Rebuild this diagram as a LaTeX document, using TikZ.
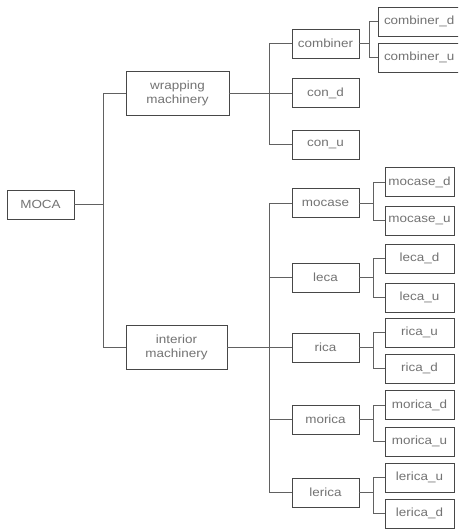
\documentclass[tikz,border=0pt]{standalone}
\usepackage{fontspec}
\setmainfont{Liberation Sans}[FakeStretch=1.14]
\begin{document}
\begin{tikzpicture}[x=1pt,y=-1pt,
  box/.style={draw=black!72,line width=0.9pt,fill=white,text=black!55,font=\fontsize{11.8}{13}\selectfont,
    align=center,inner sep=0pt,anchor=center},
  mid/.style={box,minimum width=67pt,minimum height=29pt},
  leaf/.style={box,minimum width=69pt,minimum height=29pt},
  link/.style={draw=black!62,line width=0.9pt}]
\fill[white] (0,0) rectangle (458,530);
\clip (0,0) rectangle (458,530);
\useasboundingbox (0,0) rectangle (458,530);
% buses
\coordinate (b1) at (103,0);
\coordinate (b2) at (269,0);
\coordinate (bc) at (369,0);
\coordinate (bl) at (373,0);
% nodes
\node[box,minimum width=67pt,minimum height=29pt] (moca) at (40.5,204.5) {MOCA};
\node[box,minimum width=103pt,minimum height=44pt] (wrap) at (177.5,93) {wrapping\\[1pt]machinery};
\node[box,minimum width=101pt,minimum height=44pt] (inter) at (176.5,347) {interior\\[1pt]machinery};
\node[mid] (comb) at (325.5,43.5) {combiner};
\node[mid] (cond) at (325.5,93) {con\_d};
\node[mid] (conu) at (325.5,144.5) {con\_u};
\node[mid] (mocase) at (325.5,203) {mocase};
\node[mid] (leca) at (325.5,277.5) {leca};
\node[mid] (rica) at (325.5,347.5) {rica};
\node[mid] (morica) at (325.5,419.5) {morica};
\node[mid] (lerica) at (325.5,492.5) {lerica};
\node[box,minimum width=84pt,minimum height=29pt,text width=80pt,align=left] (combd) at (420,21.5) {\hspace*{4pt}combiner\_d};
\node[box,minimum width=84pt,minimum height=29pt,text width=80pt,align=left] (combu) at (420,57.5) {\hspace*{4pt}combiner\_u};
\node[leaf] (mocased) at (419.5,182) {mocase\_d};
\node[leaf] (mocaseu) at (419.5,220.5) {mocase\_u};
\node[leaf] (lecad) at (419.5,258.5) {leca\_d};
\node[leaf] (lecau) at (419.5,297.5) {leca\_u};
\node[leaf] (ricau) at (419.5,332.5) {rica\_u};
\node[leaf] (ricad) at (419.5,368.5) {rica\_d};
\node[leaf] (moricad) at (419.5,405) {morica\_d};
\node[leaf] (moricau) at (419.5,441.5) {morica\_u};
\node[leaf] (lericau) at (419.5,477.5) {lerica\_u};
\node[leaf] (lericad) at (419.5,513.5) {lerica\_d};
% connectors
\path[link] (moca.east) -- (moca.east -| b1);
\path[link] (wrap.west) -| (b1 |- inter.west) -- (inter.west);
\path[link] (wrap.east) -- (cond.west);
\path[link] (comb.west) -| (b2 |- conu.west) -- (conu.west);
\path[link] (inter.east) -- (inter.east -| rica.west);
\path[link] (mocase.west) -| (b2 |- lerica.west) -- (lerica.west);
\path[link] (b2 |- leca.west) -- (leca.west);
\path[link] (b2 |- morica.west) -- (morica.west);
\path[link] (comb.east) -- (comb.east -| bc);
\path[link] (combd.west) -| (bc |- combu.west) -- (combu.west);
\foreach \p/\a/\b in {mocase/mocased/mocaseu,leca/lecad/lecau,rica/ricau/ricad,morica/moricad/moricau,lerica/lericau/lericad}{
  \path[link] (\p.east) -- (\p.east -| bl);
  \path[link] (\a.west) -| (bl |- \b.west) -- (\b.west);
}
\end{tikzpicture}
\end{document}
